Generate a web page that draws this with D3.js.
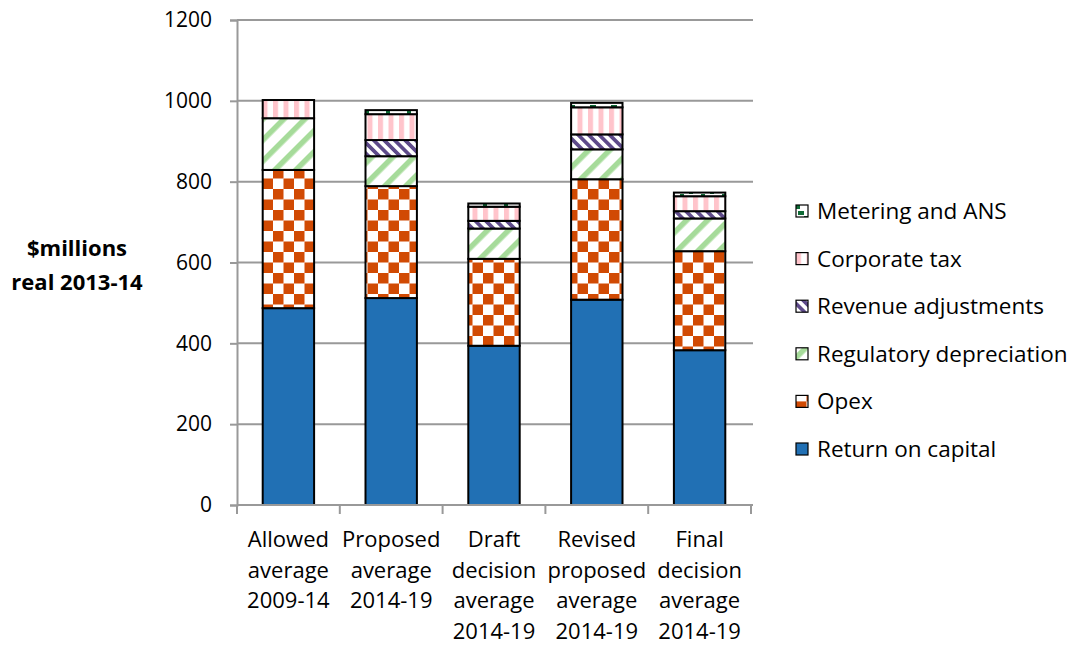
<!DOCTYPE html>
<html>
<head>
<meta charset="utf-8">
<script src="https://cdn.jsdelivr.net/npm/d3@7"></script>
<style>
  html, body { margin: 0; padding: 0; background: #fff; }
  svg { display: block; font-family: "Open Sans", sans-serif; }
</style>
</head>
<body>
<svg id="chart" width="1079" height="648"></svg>
<script>
// Annual revenue building blocks, $m real 2013-14
const categories = [
  ["Allowed", "average", "2009-14"],
  ["Proposed", "average", "2014-19"],
  ["Draft", "decision", "average", "2014-19"],
  ["Revised", "proposed", "average", "2014-19"],
  ["Final", "decision", "average", "2014-19"]
];
const seriesNames = [
  "Return on capital",
  "Opex",
  "Regulatory depreciation",
  "Revenue adjustments",
  "Corporate tax",
  "Metering and ANS"
];
const returnOnCapital   = [487, 512, 394, 508, 383];
const opex              = [342, 277, 215, 298, 245];
const regDepreciation   = [128,  74,  75,  74,  81];
const revenueAdjust     = [  0,  40,  19,  37,  18];
const corporateTax      = [ 45,  64,  35,  67,  37];
const meteringAns       = [  0,  10,   8,  11,   9];
const yTicks = [0, 200, 400, 600, 800, 1000, 1200];

const seriesValues = [returnOnCapital, opex, regDepreciation, revenueAdjust, corporateTax, meteringAns];

const svg = d3.select("#chart");
const defs = svg.append("defs");

// Fill patterns
const T = 21;
function pattern(id, w, h, transform) {
  const p = defs.append("pattern").attr("id", id)
    .attr("patternUnits", "userSpaceOnUse")
    .attr("width", w).attr("height", h);
  if (transform) p.attr("patternTransform", transform);
  p.append("rect").attr("width", w).attr("height", h).attr("fill", "#fff");
  return p;
}
// checkerboard (opex)
const pOpex = pattern("p-opex", T, T);
pOpex.append("rect").attr("x", 0).attr("y", 0).attr("width", T / 2).attr("height", T / 2).attr("fill", "#D14A03");
pOpex.append("rect").attr("x", T / 2).attr("y", T / 2).attr("width", T / 2).attr("height", T / 2).attr("fill", "#D14A03");
// wide upward diagonal (regulatory depreciation)
const pDep = pattern("p-dep", 14.85, 14.85, "rotate(45)");
pDep.append("rect").attr("x", 0).attr("y", 0).attr("width", 5.5).attr("height", 14.85).attr("fill", "#A6DB9A");
// dark downward diagonal (revenue adjustments)
const pRev = pattern("p-rev", 7.42, 7.42, "rotate(-45)");
pRev.append("rect").attr("x", 0).attr("y", 0).attr("width", 3.7).attr("height", 7.42).attr("fill", "#5E4A8A");
// light vertical (corporate tax)
const pTax = pattern("p-tax", 10.5, 10.5);
pTax.append("rect").attr("x", 0).attr("y", 0).attr("width", 5).attr("height", 10.5).attr("fill", "#FFC4CB");
// confetti (metering and ANS)
const pMet = pattern("p-met", T, T);
[[2, 0, 6, 4], [13, 10, 6, 4], [8, 5, 4, 4], [0, 15, 4, 4], [17, 2, 4, 3]].forEach(([a, b, w, h]) =>
  pMet.append("rect").attr("x", a).attr("y", b).attr("width", w).attr("height", h).attr("fill", "#0E6A35"));

const fills = ["#2170B4", "url(#p-opex)", "url(#p-dep)", "url(#p-rev)", "url(#p-tax)", "url(#p-met)"];

// Scales
const plot = { left: 237, right: 751, top: 20, bottom: 505 };
const x = d3.scaleBand().domain(d3.range(categories.length))
  .range([plot.left, plot.right]).paddingInner(0.5).paddingOuter(0.25);
const y = d3.scaleLinear().domain([0, 1200]).range([plot.bottom, plot.top]);

// Gridlines
svg.append("g").selectAll("line").data(yTicks.filter(d => d > 0)).join("line")
  .attr("x1", plot.left).attr("x2", plot.right + 2)
  .attr("y1", d => y(d)).attr("y2", d => y(d))
  .attr("stroke", "#999").attr("stroke-width", 2);

// Y axis
const yAxis = svg.append("g").attr("transform", `translate(${plot.left},0)`)
  .call(d3.axisLeft(y).tickValues(yTicks).tickSize(7).tickPadding(18).tickFormat(d3.format("d")));
yAxis.select(".domain").attr("stroke", "#999").attr("stroke-width", 2);
yAxis.selectAll(".tick line").attr("stroke", "#999").attr("stroke-width", 2);
yAxis.selectAll(".tick text").attr("font-family", "Open Sans").attr("font-size", 21).attr("fill", "#000");

// Stacked bars
const stackData = categories.map((c, i) => {
  const row = { i };
  seriesNames.forEach((s, k) => row[s] = seriesValues[k][i]);
  return row;
});
const stacked = d3.stack().keys(seriesNames)(stackData);

svg.append("g").selectAll("g").data(stacked).join("g")
  .attr("fill", (d, k) => fills[k])
  .selectAll("rect").data(d => d.filter(p => p[1] - p[0] > 0)).join("rect")
  .attr("x", d => x(d.data.i))
  .attr("width", x.bandwidth())
  .attr("y", d => y(d[1]))
  .attr("height", d => y(d[0]) - y(d[1]))
  .attr("stroke", "#000").attr("stroke-width", 2);

// X axis with ticks at category boundaries
const step = x.step();
const xStart = plot.left;
svg.append("line").attr("x1", plot.left).attr("x2", plot.right + 2)
  .attr("y1", plot.bottom).attr("y2", plot.bottom)
  .attr("stroke", "#999").attr("stroke-width", 2);
svg.append("g").selectAll("line").data(d3.range(categories.length + 1)).join("line")
  .attr("x1", i => xStart + i * step).attr("x2", i => xStart + i * step)
  .attr("y1", plot.bottom).attr("y2", plot.bottom + 9)
  .attr("stroke", "#999").attr("stroke-width", 2);

// Category labels
const lab = svg.append("g").selectAll("text").data(categories).join("text")
  .attr("text-anchor", "middle").attr("font-size", 22).attr("fill", "#000")
  .attr("transform", (d, i) => `translate(${x(i) + x.bandwidth() / 2},547)`);
lab.selectAll("tspan").data(d => d).join("tspan")
  .attr("x", 0).attr("y", (d, j) => j * 30.7).text(d => d);

// Y axis title
const yt = svg.append("text").attr("text-anchor", "middle").attr("font-weight", "bold")
  .attr("font-size", 22).attr("fill", "#000");
yt.append("tspan").attr("x", 77).attr("y", 256).text("$millions");
yt.append("tspan").attr("x", 77).attr("y", 290).text("real 2013-14");

// Legend (top entry is the top of the stack)
const legendOrder = seriesNames.map((s, k) => k).reverse();
const lg = svg.append("g").selectAll("g").data(legendOrder).join("g")
  .attr("transform", (k, j) => `translate(796,${211 + j * 47.6})`);
lg.append("rect").attr("x", 0).attr("y", -6).attr("width", 12).attr("height", 12)
  .attr("fill", k => fills[k]).attr("stroke", "#000").attr("stroke-width", 1.2);
lg.append("text").attr("x", 21).attr("y", 8).attr("font-size", 22.5).attr("fill", "#000")
  .text(k => seriesNames[k]);
</script>
</body>
</html>
